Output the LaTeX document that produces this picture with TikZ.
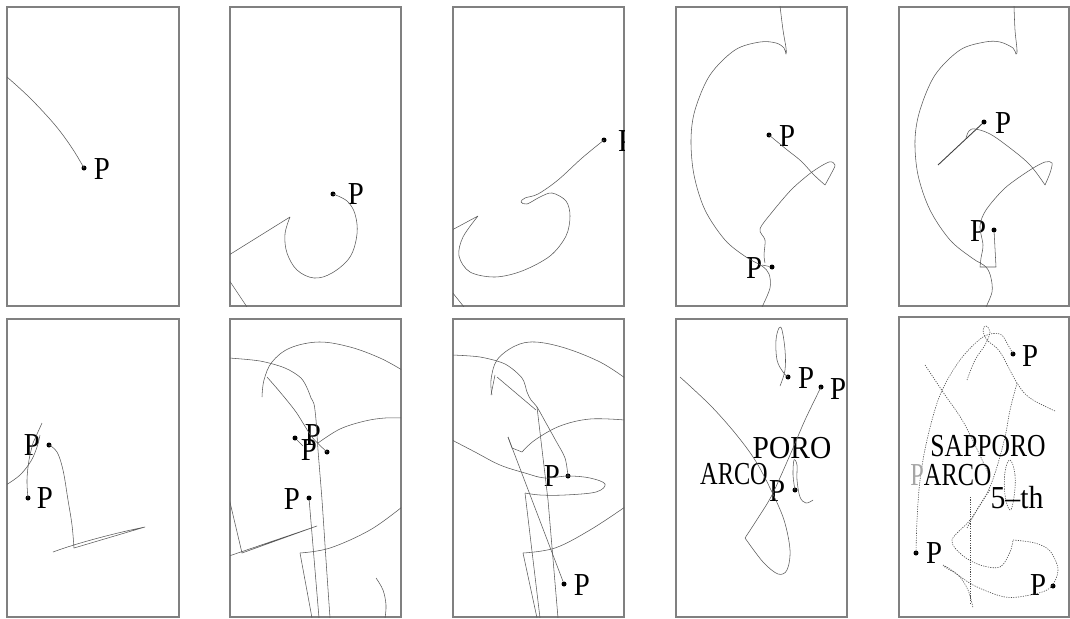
\documentclass[tikz,border=0pt]{standalone}
\usepackage{fontspec}
\usepackage{graphicx}
\setmainfont{Liberation Serif}
\begin{document}
\begin{tikzpicture}[x=1pt,y=-1pt,
  frame/.style={draw=black!50, line width=1.4},
  crv/.style={draw=black!65, line width=0.55, line join=round},
  dcrv/.style={draw=black!70, line width=0.6, dash pattern=on 1.2pt off 1.2pt},
  dot/.style={circle, fill=black, inner sep=0, minimum size=5},
  lbl/.style={inner sep=0, font=\fontsize{32}{32}\selectfont}]
\useasboundingbox (0,0) rectangle (1070,618);
% ---------- frames ----------
\draw[frame] (7,7) rectangle (179,306);
\draw[frame] (230,7) rectangle (401,306);
\draw[frame] (453,7) rectangle (624,306);
\draw[frame] (676,7) rectangle (847,306);
\draw[frame] (899,7) rectangle (1069,306);
\draw[frame] (7,319) rectangle (179,617);
\draw[frame] (230,319) rectangle (401,617);
\draw[frame] (453,319) rectangle (624,617);
\draw[frame] (676,319) rectangle (847,617);
\draw[frame] (899,317) rectangle (1069,617);
% ---------- panel 1 ----------
\begin{scope}
\clip (7,7) rectangle (179,306);
\node[dot] (d1) at (84,168) {};
\node[lbl] (p1) at (102,169) {\scalebox{0.9}[1]{P}};
\draw[crv] plot[smooth, tension=0.6] coordinates {(7,77) (30,98) (55,125) (72,148) (84,168)};
\end{scope}
% ---------- panel 2 ----------
\begin{scope}
\clip (230,7) rectangle (401,306);
\node[dot] (d2) at (333,194) {};
\node[lbl] (p2) at (356,194) {\scalebox{0.9}[1]{P}};
\draw[crv] plot[smooth, tension=0.6] coordinates {(333,194) (347,201) (355,214) (357,234) (350,257) (332,273) (314,278) (297,270) (287,253) (285,234) (290,217)} -- (229,255);
\draw[crv] (229,280) -- (247,307);
\end{scope}
% ---------- panel 3 ----------
\begin{scope}
\clip (453,7) rectangle (624,306);
\node[dot] (d3) at (604,140) {};
\node[lbl] (p3) at (626,141) {\scalebox{0.9}[1]{P}};
\draw[crv] plot[smooth, tension=0.55] coordinates {(604,140) (582,158) (558,180) (538,194) (525,198) (521,202) (527,204) (540,197) (552,193) (566,201) (570,216) (566,236) (550,256) (522,271) (495,277) (470,272) (459,256) (463,237) (478,216)} -- (452,230);
\draw[crv] (452,292) -- (464,307);
\end{scope}
% ---------- panel 4 ----------
\begin{scope}
\clip (676,7) rectangle (847,306);
\node[dot] (d4a) at (769,135) {};
\node[lbl] (p4a) at (787,136) {\scalebox{0.9}[1]{P}};
\node[dot] (d4b) at (772,267) {};
\node[lbl] (p4b) at (754,268) {\scalebox{0.9}[1]{P}};
\draw[crv] plot[smooth, tension=0.55] coordinates {(780,6) (783,30) (786,48) (786,54) (784,48) (776,43) (760,42) (735,50) (710,75) (695,110) (691,140) (694,175) (705,210) (725,240) (746,257) (762,266) (769,274) (770,288) (762,307)};
\draw[crv] plot[smooth, tension=0.5] coordinates {(769,135) (786,149) (801,161) (814,175) (825,185)};
\draw[crv] plot[smooth, tension=0.5] coordinates {(825,185) (831,174) (835,165) (829,162) (812,172) (792,189) (773,211) (760,229) (765,240) (764,255) (765,263)};
\draw[crv] (762,265) -- (d4b);
\end{scope}
% ---------- panel 5 ----------
\begin{scope}
\clip (899,7) rectangle (1069,306);
\node[dot] (d5a) at (984,122) {};
\node[lbl] (p5a) at (1003,123) {\scalebox{0.9}[1]{P}};
\node[dot] (d5b) at (994,230) {};
\node[lbl] (p5b) at (978,231) {\scalebox{0.9}[1]{P}};
\draw[crv] plot[smooth, tension=0.55] coordinates {(1014,6) (1015,30) (1017,50) (1016,54) (1013,48) (1000,42) (985,42) (960,50) (935,75) (920,110) (915,140) (918,175) (930,210) (950,240) (972,258) (986,267) (991,278) (992,292) (986,307)};
\draw[draw=black!75, line width=0.9] (d5a) -- (938,165);
\draw[crv] plot[smooth, tension=0.6] coordinates {(966,138) (969,131) (975,129) (990,134) (1010,148) (1030,165) (1045,185)};
\draw[crv] plot[smooth, tension=0.5] coordinates {(1045,185) (1050,173) (1052,163) (1045,162) (1030,170) (1005,188) (986,210) (980,226) (983,245) (981,258) (980,267)} -- (996,267) -- (d5b);
\end{scope}
% ---------- panel 6 ----------
\begin{scope}
\clip (7,319) rectangle (179,617);
\node[dot] (d6a) at (49,445) {};
\node[lbl] (p6a) at (32,445) {\scalebox{0.9}[1]{P}};
\node[dot] (d6b) at (28,498) {};
\node[lbl] (p6b) at (45,498) {\scalebox{0.9}[1]{P}};
\draw[crv] plot[smooth, tension=0.6] coordinates {(49,445) (57,452) (63,470) (68,500) (72,525) (74,548)} -- (145,527) .. controls (120,532) and (80,542) .. (53,552);
\draw[crv] plot[smooth, tension=0.6] coordinates {(28,498) (27,480) (29,460) (33,443)} -- (42,423);
\draw[crv] plot[smooth, tension=0.6] coordinates {(6,485) (20,475) (31,461) (37,447) (40,435)};
\end{scope}
% ---------- panel 7 ----------
\begin{scope}
\clip (230,319) rectangle (401,617);
\node[dot] (d7a) at (295,438) {};
\node[dot] (d7b) at (327,452) {};
\node[lbl] (p7a) at (313,435) {\scalebox{0.9}[1]{P}};
\node[lbl] (p7b) at (309,450) {\scalebox{0.9}[1]{P}};
\node[dot] (d7c) at (309,498) {};
\node[lbl] (p7c) at (292,499) {\scalebox{0.9}[1]{P}};
\draw[crv] plot[smooth, tension=0.6] coordinates {(262,397) (264,380) (272,362) (290,348) (319,342) (350,347) (380,358) (402,370)};
\draw[crv] plot[smooth, tension=0.5] coordinates {(229,358) (260,361) (285,368) (301,378) (308,390) (311,398) (314,404) (316,420) (318,450) (322,500) (326,560) (330,618)};
\draw[crv] plot[smooth, tension=0.5] coordinates {(267,377) (280,392) (296,412) (312,437) (327,452)};
\draw[crv] (d7a) -- (303,446);
\draw[crv] plot[smooth, tension=0.6] coordinates {(318,443) (340,429) (365,421) (385,418) (402,418)};
\draw[crv] (d7c) -- (319,618);
\draw[crv] (229,498) -- (242,553) -- (317,526) -- (229,556);
\draw[crv] plot[smooth, tension=0.6] coordinates {(300,553) (330,548) (370,530) (402,507)};
\draw[crv] (300,553) -- (312,618);
\draw[crv] plot[smooth, tension=0.6] coordinates {(376,578) (383,590) (386,605) (385,618)};
\end{scope}
% ---------- panel 8 ----------
\begin{scope}
\clip (453,319) rectangle (624,617);
\node[dot] (d8a) at (568,476) {};
\node[lbl] (p8a) at (552,476) {\scalebox{0.9}[1]{P}};
\node[dot] (d8b) at (564,584) {};
\node[lbl] (p8b) at (582,585) {\scalebox{0.9}[1]{P}};
\draw[crv] plot[smooth, tension=0.6] coordinates {(492,395) (491,380) (497,360) (515,346) (535,342) (565,348) (600,362) (625,378)};
\draw[crv] (495,375) -- (491,395);
\draw[crv] plot[smooth, tension=0.5] coordinates {(452,355) (480,357) (505,364) (522,378) (527,392) (531,400) (537,407) (546,423) (556,441) (565,458) (568,476)};
\draw[crv] (537,407) -- (548,500) -- (558,618);
\draw[crv] (497,377) -- (536,410);
\draw[crv] plot[smooth, tension=0.6] coordinates {(452,440) (475,452) (500,465) (525,473) (545,478) (568,476) (590,478) (605,484) (596,492) (565,495) (540,495) (525,493)};
\draw[crv] (525,493) -- (540,618);
\draw[crv] (508,437) -- (512,448) -- (522,452);
\draw[crv] plot[smooth, tension=0.6] coordinates {(522,452) (535,440) (560,426) (590,419) (625,420)};
\draw[crv] (508,437) -- (d8b);
\draw[crv] plot[smooth, tension=0.6] coordinates {(523,553) (555,548) (590,530) (625,507)};
\draw[crv] (523,553) -- (537,618);
\end{scope}
% ---------- panel 9 ----------
\begin{scope}
\clip (676,319) rectangle (847,617);
\node[dot] (d9a) at (788,377) {};
\node[lbl] (p9a) at (806,378) {\scalebox{0.9}[1]{P}};
\node[dot] (d9b) at (821,387) {};
\node[lbl] (p9b) at (838,389) {\scalebox{0.9}[1]{P}};
\node[dot] (d9c) at (795,490) {};
\node[lbl] (t9a) at (792,448) {\scalebox{0.92}[1]{PORO}};
\node[lbl] (t9b) at (734,474) {\scalebox{0.76}[1]{ARCO}};
\node[lbl] (t9c) at (777,491) {\scalebox{0.9}[1]{P}};
\draw[crv] plot[smooth, tension=0.55] coordinates {(680,377) (710,405) (735,433) (755,460) (771,490) (784,520) (790,550) (787,570) (778,574) (763,562) (745,538)};
\draw[crv] plot[smooth, tension=0.5] coordinates {(745,538) (758,518) (772,495) (790,455) (805,420) (821,387)};
\draw[crv] plot[smooth, tension=0.6] coordinates {(780,386) (785,370) (785,350) (782,330) (779,328) (776,340) (777,360) (783,372) (788,377)};
\draw[crv] plot[smooth, tension=0.6] coordinates {(795,490) (793,475) (794,460) (797,465) (797,480) (800,497) (806,503) (813,500)};
\end{scope}
% ---------- panel 10 ----------
\begin{scope}
\clip (899,317) rectangle (1069,617);
\node[dot] (d10a) at (1013,354) {};
\node[lbl] (p10a) at (1030,356) {\scalebox{0.9}[1]{P}};
\node[dot] (d10b) at (916,553) {};
\node[lbl] (p10b) at (934,553) {\scalebox{0.9}[1]{P}};
\node[dot] (d10c) at (1053,586) {};
\node[lbl] (p10c) at (1038,585) {\scalebox{0.9}[1]{P}};
\draw[dcrv] plot[smooth, tension=0.55] coordinates {(916,553) (917,520) (920,480) (927,440) (940,395) (960,360) (983,337) (1000,334) (1008,345) (1013,354)};
\draw[dcrv] plot[smooth, tension=0.6] coordinates {(967,380) (975,360) (985,345) (990,332) (986,326) (983,330) (987,340) (1000,352) (1017,383) (1030,398) (1055,411)};
\draw[dcrv] plot[smooth, tension=0.6] coordinates {(925,365) (945,395) (965,425) (990,477)};
\draw[dcrv] plot[smooth, tension=0.55] coordinates {(1017,383) (1010,410) (1005,437) (996,470) (987,493) (970,520) (952,540) (962,555) (980,565) (1000,567) (1010,552) (1013,540)};
\draw[dcrv] plot[smooth cycle, tension=0.7] coordinates {(1010,460) (1015,475) (1014,497) (1010,510) (1005,495) (1005,472)};
\draw[dcrv] plot[smooth, tension=0.55] coordinates {(1013,540) (1035,543) (1050,551) (1058,570) (1050,588) (1030,595) (1005,597) (975,586) (955,573) (943,566)};
\draw[dcrv] plot[smooth, tension=0.6] coordinates {(943,565) (958,575) (968,590) (973,608)};
\draw[dcrv] (970,497) -- (970,603);
\draw[dcrv] plot[smooth, tension=0.6] coordinates {(967,528) (978,508) (990,490)};
\node[lbl] (t10a) at (988,446) {\scalebox{0.8}[1]{SAPPORO}};
\node[lbl] (t10b) at (951,475) {\scalebox{0.76}[1]{\textcolor{black!35}{P}ARCO}};
\node[lbl] (t10c) at (1017,498) {\scalebox{0.93}[1]{5–th}};
\end{scope}
\end{tikzpicture}
\end{document}
